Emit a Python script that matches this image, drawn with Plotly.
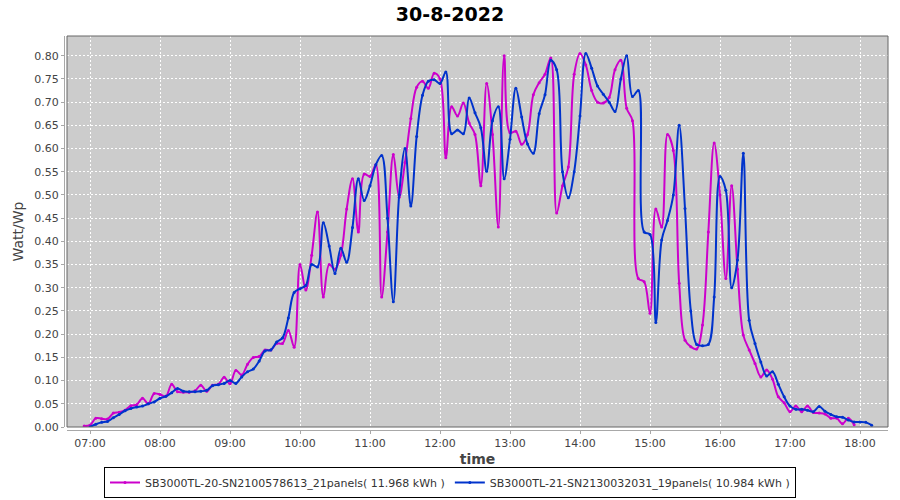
import pandas as pd
import plotly.graph_objects as go

# ---- data (5-minute samples, Watt per Wp) ----
name_a = "SB3000TL-20-SN2100578613_21panels( 11.968 kWh )"
start_a = "2022-08-30 06:55"
values_a = [
    0.002,
    0.004, 0.019, 0.018, 0.017, 0.030, 0.032, 0.036, 0.046, 0.048, 0.062, 0.050, 0.072,
    0.070, 0.066, 0.092, 0.076, 0.075, 0.075, 0.078, 0.090, 0.077, 0.090, 0.092, 0.107,
    0.093, 0.122, 0.112, 0.135, 0.150, 0.152, 0.166, 0.166, 0.180, 0.180, 0.208, 0.172,
    0.350, 0.295, 0.370, 0.463, 0.280, 0.350, 0.340, 0.370, 0.470, 0.535, 0.420, 0.545,
    0.540, 0.565, 0.280, 0.420, 0.587, 0.495, 0.570, 0.665, 0.732, 0.745, 0.730, 0.762,
    0.750, 0.580, 0.690, 0.670, 0.698, 0.655, 0.630, 0.520, 0.740, 0.630, 0.431, 0.800,
    0.634, 0.637, 0.609, 0.630, 0.716, 0.742, 0.760, 0.795, 0.461, 0.520, 0.560, 0.760,
    0.805, 0.780, 0.725, 0.700, 0.698, 0.710, 0.770, 0.790, 0.687, 0.660, 0.320, 0.313,
    0.245, 0.470, 0.431, 0.630, 0.596, 0.310, 0.187, 0.173, 0.168, 0.220, 0.420, 0.612,
    0.500, 0.320, 0.520, 0.340, 0.198, 0.166, 0.137, 0.108, 0.123, 0.103, 0.065, 0.052,
    0.033, 0.045, 0.033, 0.045, 0.031, 0.030, 0.028, 0.019, 0.019, 0.007, 0.019, 0.005,
]

name_b = "SB3000TL-21-SN2130032031_19panels( 10.984 kWh )"
start_b = "2022-08-30 07:00"
values_b = [
    0.000, 0.006, 0.010, 0.012, 0.020, 0.027, 0.035, 0.040, 0.043, 0.045, 0.050, 0.054,
    0.062, 0.066, 0.074, 0.083, 0.077, 0.076, 0.076, 0.077, 0.079, 0.089, 0.091, 0.094,
    0.100, 0.094, 0.108, 0.119, 0.125, 0.142, 0.164, 0.166, 0.183, 0.192, 0.235, 0.290,
    0.298, 0.305, 0.350, 0.345, 0.440, 0.390, 0.331, 0.385, 0.355, 0.430, 0.535, 0.488,
    0.520, 0.565, 0.585, 0.450, 0.270, 0.500, 0.600, 0.476, 0.626, 0.715, 0.745, 0.748,
    0.740, 0.765, 0.632, 0.640, 0.632, 0.709, 0.677, 0.645, 0.551, 0.660, 0.690, 0.535,
    0.620, 0.730, 0.668, 0.610, 0.590, 0.675, 0.716, 0.790, 0.770, 0.550, 0.494, 0.550,
    0.670, 0.805, 0.773, 0.735, 0.717, 0.700, 0.680, 0.750, 0.800, 0.712, 0.725, 0.420,
    0.415, 0.225, 0.403, 0.445, 0.500, 0.650, 0.471, 0.250, 0.178, 0.175, 0.178, 0.280,
    0.540, 0.510, 0.300, 0.360, 0.590, 0.230, 0.180, 0.140, 0.110, 0.119, 0.092, 0.065,
    0.045, 0.038, 0.038, 0.036, 0.033, 0.044, 0.034, 0.027, 0.022, 0.021, 0.015, 0.011,
    0.011, 0.010, 0.004,
]

title_text = "30-8-2022"
x_title = "time"
y_title = "Watt/Wp"

times_a = pd.date_range(start_a, periods=len(values_a), freq="5min")
times_b = pd.date_range(start_b, periods=len(values_b), freq="5min")

color_a = "#cc00cc"
color_b = "#0033cc"

fig = go.Figure()
for t, v, n, c in [(times_a, values_a, name_a, color_a), (times_b, values_b, name_b, color_b)]:
    fig.add_trace(go.Scatter(
        x=t, y=v, name=n, mode="lines+markers",
        line=dict(color=c, width=2, shape="spline", smoothing=1.0),
        marker=dict(color=c, size=3),
    ))

font_family = "DejaVu Sans"
axis_col = "#a8a8a8"
tick_font = dict(family=font_family, size=11, color="#444444")

fig.update_layout(
    width=900, height=500,
    paper_bgcolor="white", plot_bgcolor="#cccccc",
    margin=dict(l=64, r=12, t=36, b=70, autoexpand=False),
    font=dict(family=font_family, color="#444444"),
    title=dict(text="<b>" + title_text + "</b>", x=0.5, xref="container", xanchor="center",
               y=1 - 14 / 500, yref="container", yanchor="middle",
               font=dict(family=font_family, size=19, color="black")),
    xaxis=dict(
        domain=[3 / 824, 1], anchor="free", position=0, automargin=False,
        type="date", range=["2022-08-30 06:40:17", "2022-08-30 18:24:00"],
        tickformat="%H:%M", dtick=3600000, tick0="2022-08-30 07:00",
        showgrid=True, gridcolor="white", griddash="2px,2px", gridwidth=1,
        showline=True, linecolor=axis_col, linewidth=1,
        ticks="outside", ticklen=3, tickcolor=axis_col,
        tickfont=tick_font, zeroline=False,
        title=dict(text="<b>" + x_title + "</b>", standoff=6,
                   font=dict(family=font_family, size=14, color="#444444")),
    ),
    yaxis=dict(
        domain=[3 / 394, 1], anchor="free", position=0, automargin=False,
        range=[0, 0.8425], dtick=0.05, tick0=0, tickformat=".2f",
        showgrid=True, gridcolor="white", griddash="2px,2px", gridwidth=1,
        showline=True, linecolor=axis_col, linewidth=1,
        ticks="outside", ticklen=3, tickcolor=axis_col,
        tickfont=tick_font, zeroline=False,
        title=dict(text=y_title, standoff=6,
                   font=dict(family=font_family, size=14, color="#444444")),
    ),
    legend=dict(
        orientation="h", x=0.5, xref="container", xanchor="center",
        y=2 / 500, yref="container", yanchor="bottom",
        bordercolor="black", borderwidth=1, bgcolor="white",
        font=dict(family=font_family, size=11, color="#333333"),
        itemwidth=30, tracegroupgap=0,
    ),
    showlegend=True,
)

fig.add_shape(type="rect", xref="x domain", yref="y domain", x0=0, x1=1, y0=0, y1=1,
              line=dict(color="#666666", width=1), fillcolor="rgba(0,0,0,0)", layer="above")

fig.write_html("out.html",
               config={"displayModeBar": False},
               post_script="document.body.style.margin='0';document.body.style.overflow='hidden';")
